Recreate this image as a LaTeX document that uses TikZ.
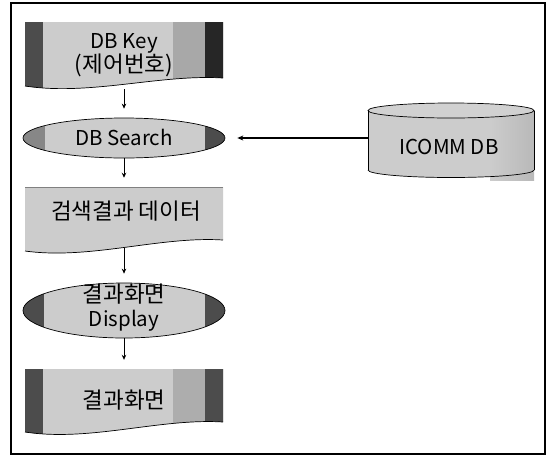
\documentclass[tikz,border=0pt]{standalone}
\usepackage{fontspec}
\setmainfont{Noto Sans CJK KR}
\usetikzlibrary{shapes.geometric,arrows.meta}
\definecolor{lightfill}{gray}{0.80}
\definecolor{midfill}{gray}{0.66}
\definecolor{darkfill}{gray}{0.30}
\newcommand\krtxt[1]{{\fontsize{22.5}{24}\selectfont #1}}
\tikzset{
  lbl/.style={font=\fontsize{20.5}{24}\selectfont, inner sep=0pt, align=center},
  anchorbox/.style={rectangle, minimum width=198pt, inner sep=0pt},
  oval/.style={ellipse, draw, line width=0.7pt, fill=lightfill, minimum width=202pt, inner sep=0pt},
  flow/.style={-{Stealth[length=5pt,width=4.5pt]}, line width=0.8pt, shorten >=9pt},
  docline/.style={line width=0.7pt}
}
\begin{document}
\begin{tikzpicture}[x=1pt,y=-1pt]
\useasboundingbox (0,0) rectangle (552,456);
\fill[white] (0,0) rectangle (552,456);
% frame
\draw[line width=1.6pt] (11,3) rectangle (545,454);

% ---------- document 1: DB Key ----------
\begin{scope}
  \clip (25,22) -- (223,22) -- (223,78) .. controls (160,74) and (90,96) .. (25,86) -- cycle;
  \fill[lightfill] (20,15) rectangle (230,100);
  \fill[midfill] (173,15) rectangle (205,100);
  \fill[darkfill] (20,15) rectangle (43,100);
  \fill[black!85] (205,15) rectangle (230,100);
\end{scope}
\draw[docline] (25,86) .. controls (90,96) and (160,74) .. (223,78);
\node[anchorbox, minimum height=67pt] (key) at (124,55.5) {};
\node[lbl] (keytxt) at (124,55) {DB Key\\\krtxt{(제어번호)}};

% ---------- ellipse: DB Search ----------
\node[oval, minimum height=40pt,
  path picture={
    \fill[midfill!80!black] (path picture bounding box.north west) rectangle ([xshift=22pt]path picture bounding box.south west);
    \fill[darkfill] ([xshift=-20pt]path picture bounding box.north east) rectangle (path picture bounding box.south east);
  }] (search) at (124,138) {};
\node[lbl] (searchtxt) at (124,137) {DB Search};

% ---------- document 2: search result data ----------
\fill[lightfill] (25,187) -- (223,187) -- (223,240) .. controls (160,236) and (90,260) .. (25,251) -- cycle;
\draw[docline] (25,251) .. controls (90,260) and (160,236) .. (223,240);
\draw[docline, gray] (25,187) -- (223,187);
\node[anchorbox, minimum height=60.5pt] (data) at (124,217.2) {};
\node[lbl] (datatxt) at (126,211) {\krtxt{검색결과 데이터}};

% ---------- ellipse: result display ----------
\node[oval, minimum height=55pt,
  path picture={
    \fill[darkfill] (path picture bounding box.north west) rectangle ([xshift=21pt]path picture bounding box.south west);
    \fill[darkfill] ([xshift=-20pt]path picture bounding box.north east) rectangle (path picture bounding box.south east);
  }] (disp) at (124,310.5) {};
\node[lbl] (disptxt) at (124,308) {\krtxt{결과화면}\\Display};

% ---------- document 3: result screen ----------
\begin{scope}
  \clip (25,369) -- (223,369) -- (223,422) .. controls (160,418) and (90,442) .. (25,432) -- cycle;
  \fill[lightfill] (20,360) rectangle (230,450);
  \fill[lightfill!85!black] (173,360) rectangle (205,450);
  \fill[darkfill] (20,360) rectangle (43,450);
  \fill[darkfill] (205,360) rectangle (230,450);
\end{scope}
\draw[docline] (25,432) .. controls (90,442) and (160,418) .. (223,422);
\node[anchorbox, minimum height=64pt] (result) at (124,401) {};
\node[lbl] (resulttxt) at (124,400) {\krtxt{결과화면}};

% ---------- cylinder: ICOMM DB ----------
\begin{scope}
  \clip (368,110.5) -- (534,110.5) -- (534,170) -- (368,170) -- cycle;
  \fill[lightfill] (360,100) rectangle (540,180);
  \shade[left color=lightfill, right color=gray!55] (490,100) rectangle (534,180);
\end{scope}
\begin{scope}
  \clip (360,170) rectangle (540,180);
  \fill[lightfill] (451,170) ellipse [x radius=83, y radius=7.5];
  \shade[left color=lightfill, right color=gray!55] (490,170) rectangle (534,180);
  \draw[docline] (451,170) ellipse [x radius=83, y radius=7.5];
\end{scope}
\fill[lightfill!90!white] (451,110.5) ellipse [x radius=83, y radius=7.5];
\draw[docline] (451,110.5) ellipse [x radius=83, y radius=7.5];
\draw[docline] (368,110.5) -- (368,170);
\draw[docline] (534,110.5) -- (534,170);
\node[rectangle, minimum width=166pt, minimum height=74pt, inner sep=0pt] (db) at (451,140) {};
\node[lbl] (dbtxt) at (449,147) {ICOMM DB};

% ---------- connectors ----------
\draw[flow] (key.south) -- (search.north);
\draw[flow] (search.south) -- (data.north);
\draw[flow] (data.south) -- (disp.north);
\draw[flow] (disp.south) -- (result.north);
\draw[-{Stealth[length=6pt,width=5pt]}, line width=1.1pt, shorten >=12pt] (db.west |- search.east) -- (search.east);
\end{tikzpicture}
\end{document}
